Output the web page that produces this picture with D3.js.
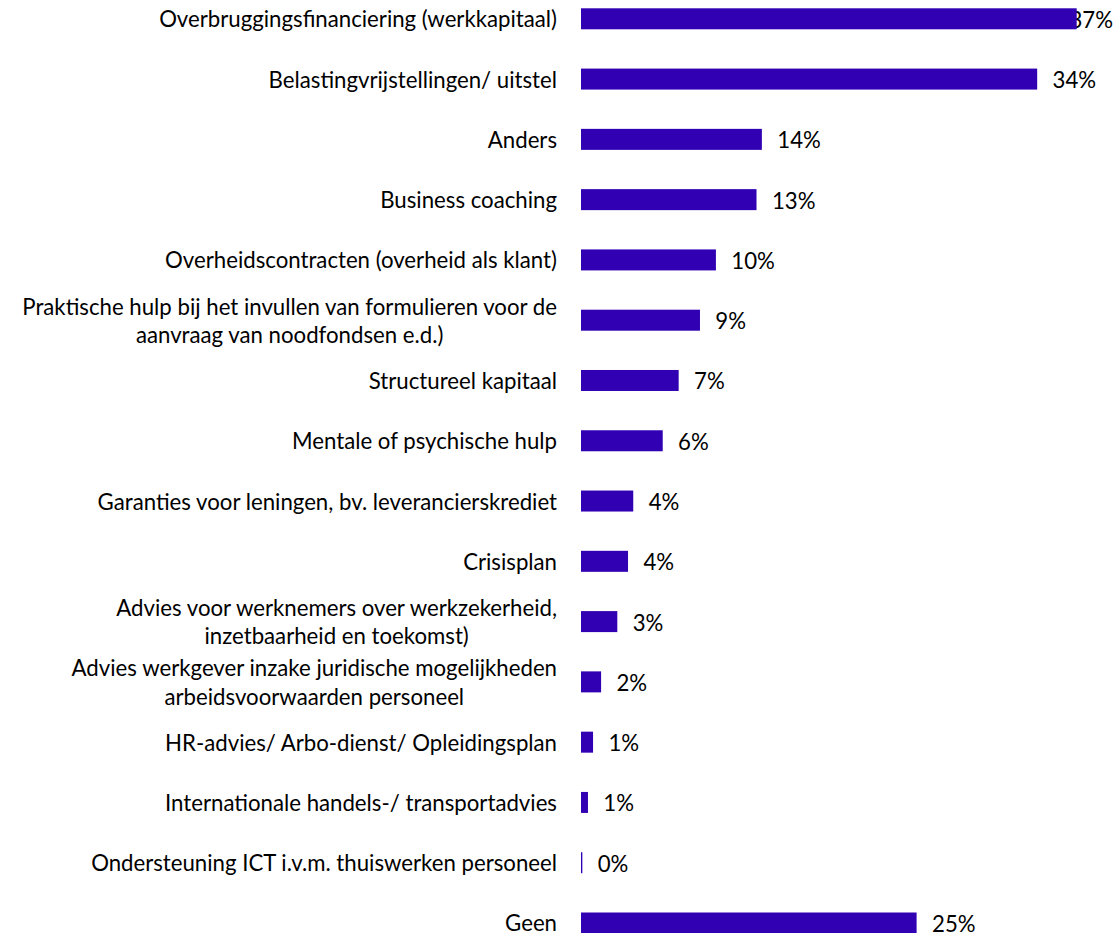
<!DOCTYPE html>
<html>
<head>
<meta charset="utf-8">
<script src="https://cdn.jsdelivr.net/npm/d3@7"></script>
<style>
  body { margin: 0; background: #fff; }
  text { font-family: Lato, "Open Sans", sans-serif; fill: #000; }
</style>
</head>
<body>
<div id="chart"></div>
<script>
var svgWidth = 1115;
var svgHeight = 933;

// category labels, "\n" marks the wrap as in the original
var categories = [
  "Overbruggingsfinanciering (werkkapitaal)",
  "Belastingvrijstellingen/ uitstel",
  "Anders",
  "Business coaching",
  "Overheidscontracten (overheid als klant)",
  "Praktische hulp bij het invullen van formulieren voor de\naanvraag van noodfondsen e.d.)",
  "Structureel kapitaal",
  "Mentale of psychische hulp",
  "Garanties voor leningen, bv. leverancierskrediet",
  "Crisisplan",
  "Advies voor werknemers over werkzekerheid,\ninzetbaarheid en toekomst)",
  "Advies werkgever inzake juridische mogelijkheden\narbeidsvoorwaarden personeel",
  "HR-advies/ Arbo-dienst/ Opleidingsplan",
  "Internationale handels-/ transportadvies",
  "Ondersteuning ICT i.v.m. thuiswerken personeel",
  "Geen"
];

// percentages
var values = [37.0, 34.05, 13.5, 13.1, 10.07, 8.88, 7.29, 6.1, 3.9, 3.51, 2.71, 1.5, 0.9, 0.52, 0.1, 25.05];

var barColor = "#3000b2";
var barLeft = 581;
var labelRight = 557;
var step = 60.28;
var top0 = 18.8 - step / 2;

var svg = d3.select("#chart")
  .append("svg")
  .attr("width", svgWidth)
  .attr("height", svgHeight);

// fit font size so the widest single-line label matches the picture
var probe = svg.append("text").attr("font-size", 100).text(categories[0]);
var fontSize = 100 * 398 / probe.node().getComputedTextLength();
probe.remove();
var capH = 0.72 * fontSize;
var linePitch = 28.3;

var xScale = d3.scaleLinear()
  .domain([0, 37])
  .range([barLeft, barLeft + 495.7]);

var yScale = d3.scaleBand()
  .domain(categories)
  .range([top0, top0 + step * categories.length])
  .paddingInner(1 - 21 / step)
  .paddingOuter((1 - 21 / step) / 2);

var data = categories.map(function(c, i) { return { cat: c, value: values[i] }; });

function center(d) {
  return yScale(d.cat) + yScale.bandwidth() / 2;
}

// category labels
var catGroup = svg.append("g");
data.forEach(function(d) {
  var lines = d.cat.split("\n");
  var t = catGroup.append("text")
    .attr("font-size", fontSize)
    .attr("text-anchor", "middle");
  var spans = lines.map(function(l) { return t.append("tspan").text(l); });
  var maxW = d3.max(spans, function(s) { return s.node().getComputedTextLength(); });
  var cx = labelRight - maxW / 2;
  var firstBase = center(d) + capH / 2 + 0.5 - (lines.length - 1) * linePitch / 2;
  spans.forEach(function(s, i) {
    s.attr("x", cx).attr("y", firstBase + i * linePitch);
  });
});

// value labels (drawn before the bars, the bars cover them where they meet)
svg.append("g")
  .selectAll("text")
  .data(data)
  .enter()
  .append("text")
  .attr("font-size", fontSize)
  .attr("y", d => center(d) + capH / 2 + 1)
  .text(d => Math.round(d.value) + "%")
  .attr("x", function(d) {
    var w = this.getComputedTextLength();
    return Math.min(xScale(d.value) + 15.4, svgWidth - 2 - w);
  });

// bars
svg.append("g")
  .selectAll("rect")
  .data(data)
  .enter()
  .append("rect")
  .attr("x", xScale(0))
  .attr("y", d => yScale(d.cat))
  .attr("width", d => Math.max(1, xScale(d.value) - xScale(0)))
  .attr("height", yScale.bandwidth())
  .attr("fill", barColor);
</script>
</body>
</html>
